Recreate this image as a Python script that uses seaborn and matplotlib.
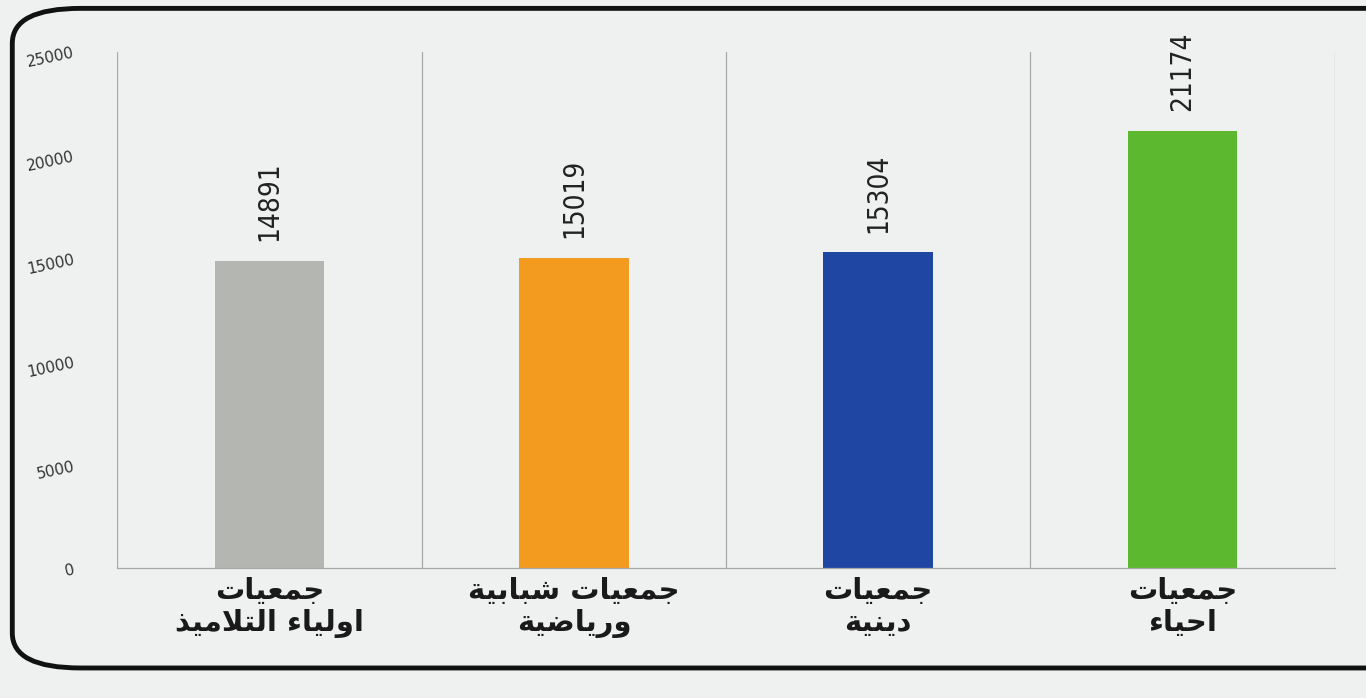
import matplotlib
matplotlib.use("Agg")
import matplotlib.pyplot as plt
from matplotlib.patches import FancyBboxPatch
import numpy as np
import seaborn as sns

# chart data (left to right as printed)
categories = ["جمعيات\nاولياء التلاميذ", "جمعيات شبابية\nورياضية", "جمعيات\nدينية", "جمعيات\nاحياء"]
values = [14891, 15019, 15304, 21174]
bar_colors = ["#b4b6b1", "#f39b1f", "#1f46a3", "#5cb82f"]
y_ticks = [0, 5000, 10000, 15000, 20000, 25000]

# matplotlib has no arabic shaping, so pick the presentation forms by hand
FORMS = {
    "ء": (0xFE80, 1), "أ": (0xFE83, 2), "ا": (0xFE8D, 2), "ب": (0xFE8F, 4),
    "ة": (0xFE93, 2), "ت": (0xFE95, 4), "ج": (0xFE9D, 4), "ح": (0xFEA1, 4),
    "د": (0xFEA9, 2), "ذ": (0xFEAB, 2), "ر": (0xFEAD, 2), "ش": (0xFEB5, 4),
    "ض": (0xFEBD, 4), "ع": (0xFEC9, 4), "ل": (0xFEDD, 4), "م": (0xFEE1, 4),
    "ن": (0xFEE5, 4), "و": (0xFEED, 2), "ي": (0xFEF1, 4), "لا": (0xFEFB, 2),
}


def shape_line(line):
    words = []
    for word in line.split(" "):
        toks, i = [], 0
        while i < len(word):
            if word[i:i + 2] == "لا":
                toks.append("لا")
                i += 2
            else:
                toks.append(word[i])
                i += 1
        glyphs = []
        for k, t in enumerate(toks):
            base, n = FORMS[t]
            jp = k > 0 and FORMS[toks[k - 1]][1] == 4
            jn = n == 4 and k + 1 < len(toks) and FORMS[toks[k + 1]][1] > 1
            if n == 1:
                idx = 0
            elif jp and jn:
                idx = 3
            elif jp:
                idx = 1
            elif jn:
                idx = 2
            else:
                idx = 0
            glyphs.append(chr(base + idx))
        words.append("".join(glyphs))
    return " ".join(words)[::-1]


def shape(label):
    return "\n".join(shape_line(l) for l in label.split("\n"))


bg = "#eef1f0"
sns.set_theme(style="white")
plt.rcParams["font.family"] = ["DejaVu Sans"]

fig = plt.figure(figsize=(13.66, 6.98), dpi=100, facecolor=bg)
ax = fig.add_axes([0.086, 0.186, 0.891, 0.74])
ax.set_facecolor(bg)

sns.barplot(x=categories, y=values, hue=categories, palette=bar_colors,
            legend=False, width=0.36, saturation=1, linewidth=0, ax=ax)

for cont in ax.containers:
    ax.bar_label(cont, fmt="%d", rotation=90, padding=14, fontsize=20,
                 color="#222222", family="DejaVu Sans", fontstretch="condensed")

ax.set_ylim(0, 25000)
ax.set_xlim(-0.5, len(categories) - 0.5)
ax.set_yticks(y_ticks)
ax.set_yticklabels([str(t) for t in y_ticks], fontsize=11, color="#333333", rotation=12)
ax.set_xticks(range(len(categories)))
ax.set_xticklabels([shape(c) for c in categories], fontsize=21, fontweight="bold",
                   color="#1a1a1a", linespacing=1.2)
ax.tick_params(axis="both", length=0)
ax.tick_params(axis="y", pad=30)
ax.tick_params(axis="x", pad=6)

# category separators
ax.set_xticks(np.arange(len(categories) + 1) - 0.5, minor=True)
ax.grid(which="minor", axis="x", color="#a8a8a8", lw=0.9)
ax.tick_params(which="minor", length=0)
for s in ["top", "left", "right"]:
    ax.spines[s].set_visible(False)
ax.spines["bottom"].set_color("#a8a8a8")
ax.spines["bottom"].set_linewidth(0.9)
ax.set_xlabel("")
ax.set_ylabel("")

# printed box around the chart (runs off the right edge of the photo)
frame = FancyBboxPatch((0.009, 0.043), 1.1, 0.945, boxstyle="round,pad=0,rounding_size=0.05",
                       transform=fig.transFigure, fill=False, lw=3.5, ec="#111111")
fig.patches.append(frame)

fig.savefig("out.png", dpi=100, facecolor=bg)
